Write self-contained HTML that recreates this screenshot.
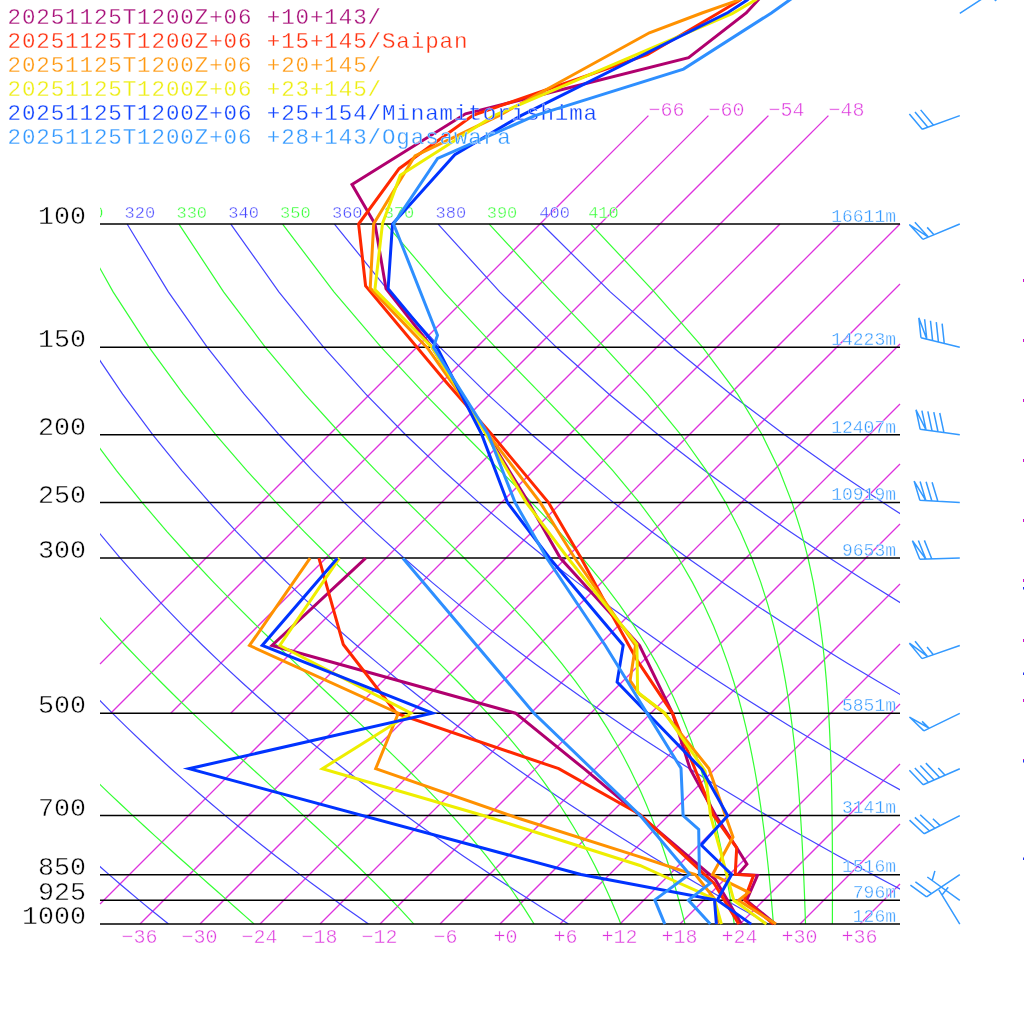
<!DOCTYPE html><html><head><meta charset="utf-8"><style>html,body{margin:0;padding:0;background:#fff;width:1024px;height:1024px;overflow:hidden}svg{display:block;will-change:transform}text{font-family:"Liberation Mono",monospace}</style></head><body>
<svg width="1024" height="1024" viewBox="0 0 1024 1024">
<rect width="1024" height="1024" fill="#fff"/>
<defs><clipPath id="pc"><rect x="100" y="0" width="800" height="924.1"/></clipPath><clipPath id="pl"><rect x="100" y="100" width="800" height="824.1"/></clipPath></defs>
<g stroke="#dd33dd" stroke-width="1.3" fill="none"><line x1="100" y1="664.04" x2="648.42" y2="115.62"/><line x1="110.72" y1="713.32" x2="708.42" y2="115.62"/><line x1="170.72" y1="713.32" x2="768.42" y2="115.62"/><line x1="230.72" y1="713.32" x2="828.42" y2="115.62"/><line x1="100" y1="904.04" x2="779.99" y2="224.05"/><line x1="140" y1="924.04" x2="839.99" y2="224.05"/><line x1="200" y1="924.04" x2="899.99" y2="224.05"/><line x1="260" y1="924.04" x2="900" y2="284.04"/><line x1="320" y1="924.04" x2="900" y2="344.04"/><line x1="380" y1="924.04" x2="900" y2="404.04"/><line x1="440" y1="924.04" x2="900" y2="464.04"/><line x1="500" y1="924.04" x2="900" y2="524.04"/><line x1="560" y1="924.04" x2="900" y2="584.04"/><line x1="620" y1="924.04" x2="900" y2="644.04"/><line x1="680" y1="924.04" x2="900" y2="704.04"/><line x1="740" y1="924.04" x2="900" y2="764.04"/><line x1="800" y1="924.04" x2="900" y2="824.04"/><line x1="860" y1="924.04" x2="900" y2="884.04"/></g>
<g clip-path="url(#pl)" stroke="#4444ff" stroke-width="1.2" fill="none"><polyline points="168.5,924.04 158.92,916.34 149.22,908.44 139.39,900.34 129.44,892.01 119.35,883.44 109.13,874.63 98.77,865.55 88.26,856.2 77.6,846.55 66.78,836.58 55.8,826.27 44.64,815.61 33.32,804.55 21.81,793.08 10.11,781.15 -1.79,768.74 -13.9,755.81 -26.22,742.29 -38.77,728.15 -51.55,713.32 -64.57,697.73 -77.85,681.29 -91.4,663.91 -105.21,645.48 -119.32,625.86 -133.71,604.89 -148.41,582.36 -163.41,558.03 -178.7,531.58 -194.28,502.6 -210.12,470.57 -226.14,434.77 -242.24,394.17 -258.19,347.31 -273.58,291.89 -287.54,224.05"/><polyline points="368.5,924.04 357.48,916.34 346.31,908.44 334.99,900.34 323.51,892.01 311.87,883.44 300.06,874.63 288.08,865.55 275.92,856.2 263.56,846.55 251.01,836.58 238.26,826.27 225.29,815.61 212.09,804.55 198.67,793.08 185,781.15 171.07,768.74 156.88,755.81 142.41,742.29 127.64,728.15 112.55,713.32 97.14,697.73 81.39,681.29 65.27,663.91 48.76,645.48 31.85,625.86 14.51,604.89 -3.29,582.36 -21.57,558.03 -40.34,531.58 -59.63,502.6 -79.46,470.57 -99.8,434.77 -120.62,394.17 -141.81,347.31 -163.1,291.89 -183.88,224.05"/><polyline points="568.5,924.04 556.04,916.34 543.4,908.44 530.59,900.34 517.59,892.01 504.39,883.44 491,874.63 477.4,865.55 463.58,856.2 449.53,846.55 435.25,836.58 420.72,826.27 405.93,815.61 390.87,804.55 375.53,793.08 359.89,781.15 343.94,768.74 327.66,755.81 311.03,742.29 294.04,728.15 276.66,713.32 258.86,697.73 240.63,681.29 221.93,663.91 202.74,645.48 183.02,625.86 162.73,604.89 141.83,582.36 120.28,558.03 98.02,531.58 75.01,502.6 51.2,470.57 26.54,434.77 1,394.17 -25.43,347.31 -52.61,291.89 -80.21,224.05"/><polyline points="768.5,924.04 754.6,916.34 740.5,908.44 726.19,900.34 711.66,892.01 696.92,883.44 681.93,874.63 666.71,865.55 651.24,856.2 635.5,846.55 619.48,836.58 603.18,826.27 586.57,815.61 569.65,804.55 552.39,793.08 534.79,781.15 516.81,768.74 498.44,755.81 479.66,742.29 460.44,728.15 440.76,713.32 420.58,697.73 399.87,681.29 378.6,663.91 356.72,645.48 334.19,625.86 310.95,604.89 286.95,582.36 262.12,558.03 236.38,531.58 209.66,502.6 181.86,470.57 152.88,434.77 122.61,394.17 90.96,347.31 57.87,291.89 23.45,224.05"/><polyline points="968.5,924.04 953.16,916.34 937.59,908.44 921.79,900.34 905.74,892.01 889.44,883.44 872.87,874.63 856.03,865.55 838.9,856.2 821.46,846.55 803.72,836.58 785.64,826.27 767.22,815.61 748.43,804.55 729.26,793.08 709.68,781.15 689.68,768.74 669.22,755.81 648.29,742.29 626.85,728.15 604.86,713.32 582.3,697.73 559.11,681.29 535.26,663.91 510.7,645.48 485.35,625.86 459.17,604.89 432.06,582.36 403.96,558.03 374.74,531.58 344.31,502.6 312.52,470.57 279.22,434.77 244.23,394.17 207.34,347.31 168.35,291.89 127.12,224.05"/><polyline points="1168.5,924.04 1151.72,916.34 1134.68,908.44 1117.38,900.34 1099.81,892.01 1081.96,883.44 1063.81,874.63 1045.34,865.55 1026.56,856.2 1007.43,846.55 987.95,836.58 968.1,826.27 947.86,815.61 927.21,804.55 906.12,793.08 884.57,781.15 862.55,768.74 840,755.81 816.92,742.29 793.25,728.15 768.96,713.32 744.02,697.73 718.36,681.29 691.93,663.91 664.67,645.48 636.52,625.86 607.39,604.89 577.18,582.36 545.8,558.03 513.11,531.58 478.96,502.6 443.18,470.57 405.56,434.77 365.85,394.17 323.72,347.31 278.83,291.89 230.78,224.05"/><polyline points="1368.5,924.04 1350.28,916.34 1331.78,908.44 1312.98,900.34 1293.89,892.01 1274.48,883.44 1254.74,874.63 1234.66,865.55 1214.22,856.2 1193.4,846.55 1172.19,836.58 1150.56,826.27 1128.5,815.61 1105.98,804.55 1082.98,793.08 1059.47,781.15 1035.41,768.74 1010.78,755.81 985.55,742.29 959.65,728.15 933.07,713.32 905.73,697.73 877.6,681.29 848.59,663.91 818.65,645.48 787.69,625.86 755.61,604.89 722.3,582.36 687.64,558.03 651.47,531.58 613.61,502.6 573.84,470.57 531.91,434.77 487.46,394.17 440.1,347.31 389.31,291.89 334.45,224.05"/><polyline points="1568.5,924.04 1548.84,916.34 1528.87,908.44 1508.58,900.34 1487.96,892.01 1467,883.44 1445.68,874.63 1423.97,865.55 1401.88,856.2 1379.37,846.55 1356.42,836.58 1333.02,826.27 1309.14,815.61 1284.76,804.55 1259.84,793.08 1234.36,781.15 1208.28,768.74 1181.57,755.81 1154.17,742.29 1126.06,728.15 1097.17,713.32 1067.45,697.73 1036.84,681.29 1005.26,663.91 972.63,645.48 938.86,625.86 903.83,604.89 867.42,582.36 829.48,558.03 789.83,531.58 748.26,502.6 704.5,470.57 658.25,434.77 609.08,394.17 556.49,347.31 499.79,291.89 438.11,224.05"/><polyline points="1768.5,924.04 1747.4,916.34 1725.96,908.44 1704.18,900.34 1682.04,892.01 1659.52,883.44 1636.61,874.63 1613.29,865.55 1589.54,856.2 1565.33,846.55 1540.66,836.58 1515.48,826.27 1489.79,815.61 1463.54,804.55 1436.71,793.08 1409.25,781.15 1381.15,768.74 1352.35,755.81 1322.8,742.29 1292.46,728.15 1261.27,713.32 1229.17,697.73 1196.08,681.29 1161.92,663.91 1126.61,645.48 1090.02,625.86 1052.05,604.89 1012.54,582.36 971.32,558.03 928.19,531.58 882.91,502.6 835.16,470.57 784.59,434.77 730.7,394.17 672.87,347.31 610.27,291.89 541.78,224.05"/></g>
<g clip-path="url(#pl)" stroke="#33ff33" stroke-width="1.2" fill="none"><polyline points="254.1,924.04 245.45,916.34 236.54,908.44 227.37,900.34 217.94,892.01 208.24,883.44 198.28,874.63 188.05,865.55 177.55,856.2 166.79,846.55 155.76,836.58 144.45,826.27 132.88,815.61 121.03,804.55 108.92,793.08 96.52,781.15 83.85,768.74 70.89,755.81 57.65,742.29 44.11,728.15 30.27,713.32 16.13,697.73 1.66,681.29 -13.13,663.91 -28.27,645.48 -43.76,625.86 -59.62,604.89 -75.86,582.36 -92.49,558.03 -109.52,531.58 -126.96,502.6 -144.79,470.57 -162.97,434.77 -181.43,394.17 -200,347.31 -218.34,291.89 -235.71,224.05"/><polyline points="413.9,924.04 406.87,916.34 399.5,908.44 391.78,900.34 383.69,892.01 375.2,883.44 366.31,874.63 357,865.55 347.25,856.2 337.06,846.55 326.39,836.58 315.26,826.27 303.64,815.61 291.53,804.55 278.92,793.08 265.82,781.15 252.22,768.74 238.11,755.81 223.51,742.29 208.41,728.15 192.8,713.32 176.7,697.73 160.09,681.29 142.97,663.91 125.34,645.48 107.17,625.86 88.46,604.89 69.18,582.36 49.31,558.03 28.82,531.58 7.68,502.6 -14.13,470.57 -36.63,434.77 -59.81,394.17 -83.62,347.31 -107.85,291.89 -132.04,224.05"/><polyline points="534.08,924.04 529.29,916.34 524.21,908.44 518.83,900.34 513.13,892.01 507.06,883.44 500.62,874.63 493.76,865.55 486.44,856.2 478.64,846.55 470.31,836.58 461.42,826.27 451.91,815.61 441.75,804.55 430.89,793.08 419.3,781.15 406.93,768.74 393.74,755.81 379.72,742.29 364.83,728.15 349.05,713.32 332.39,697.73 314.82,681.29 296.36,663.91 277.01,645.48 256.78,625.86 235.67,604.89 213.68,582.36 190.79,558.03 166.98,531.58 142.23,502.6 116.49,470.57 89.69,434.77 61.8,394.17 32.76,347.31 2.63,291.89 -28.38,224.05"/><polyline points="620.86,924.04 617.79,916.34 614.54,908.44 611.08,900.34 607.4,892.01 603.48,883.44 599.28,874.63 594.79,865.55 589.96,856.2 584.78,846.55 579.18,836.58 573.13,826.27 566.58,815.61 559.47,804.55 551.73,793.08 543.29,781.15 534.08,768.74 524,755.81 512.96,742.29 500.86,728.15 487.6,713.32 473.09,697.73 457.22,681.29 439.92,663.91 421.13,645.48 400.81,625.86 378.94,604.89 355.53,582.36 330.6,558.03 304.17,531.58 276.25,502.6 246.84,470.57 215.91,434.77 183.37,394.17 149.13,347.31 113.11,291.89 75.29,224.05"/><polyline points="684.98,924.04 683.07,916.34 681.04,908.44 678.88,900.34 676.58,892.01 674.13,883.44 671.51,874.63 668.69,865.55 665.66,856.2 662.4,846.55 658.87,836.58 655.04,826.27 650.87,815.61 646.32,804.55 641.33,793.08 635.84,781.15 629.78,768.74 623.06,755.81 615.58,742.29 607.24,728.15 597.88,713.32 587.35,697.73 575.47,681.29 562.05,663.91 546.85,645.48 529.67,625.86 510.27,604.89 488.49,582.36 464.19,558.03 437.31,531.58 407.86,502.6 375.91,470.57 341.51,434.77 304.69,394.17 265.42,347.31 223.57,291.89 178.95,224.05"/><polyline points="734.24,924.04 733.09,916.34 731.87,908.44 730.57,900.34 729.19,892.01 727.72,883.44 726.14,874.63 724.44,865.55 722.62,856.2 720.64,846.55 718.5,836.58 716.18,826.27 713.64,815.61 710.86,804.55 707.8,793.08 704.42,781.15 700.67,768.74 696.48,755.81 691.79,742.29 686.51,728.15 680.51,713.32 673.68,697.73 665.84,681.29 656.79,663.91 646.28,645.48 634.01,625.86 619.59,604.89 602.62,582.36 582.62,558.03 559.13,531.58 531.76,502.6 500.26,470.57 464.59,434.77 424.88,394.17 381.3,347.31 333.91,291.89 282.59,224.05"/><polyline points="773.42,924.04 772.8,916.34 772.13,908.44 771.43,900.34 770.67,892.01 769.86,883.44 768.99,874.63 768.06,865.55 767.04,856.2 765.94,846.55 764.74,836.58 763.44,826.27 762,815.61 760.41,804.55 758.66,793.08 756.71,781.15 754.53,768.74 752.07,755.81 749.3,742.29 746.16,728.15 742.56,713.32 738.41,697.73 733.6,681.29 727.97,663.91 721.34,645.48 713.44,625.86 703.96,604.89 692.45,582.36 678.36,558.03 660.98,531.58 639.45,502.6 612.82,470.57 580.22,434.77 541.12,394.17 495.51,347.31 443.74,291.89 386.13,224.05"/><polyline points="805.51,924.04 805.25,916.34 804.98,908.44 804.69,900.34 804.38,892.01 804.04,883.44 803.67,874.63 803.27,865.55 802.82,856.2 802.34,846.55 801.79,836.58 801.19,826.27 800.52,815.61 799.76,804.55 798.9,793.08 797.94,781.15 796.83,768.74 795.57,755.81 794.12,742.29 792.44,728.15 790.48,713.32 788.18,697.73 785.47,681.29 782.24,663.91 778.36,645.48 773.67,625.86 767.91,604.89 760.77,582.36 751.8,558.03 740.38,531.58 725.63,502.6 706.34,470.57 680.92,434.77 647.54,394.17 604.64,347.31 551.66,291.89 489.21,224.05"/><polyline points="832.38,924.04 832.4,916.34 832.42,908.44 832.44,900.34 832.45,892.01 832.45,883.44 832.45,874.63 832.43,865.55 832.4,856.2 832.36,846.55 832.29,836.58 832.19,826.27 832.07,815.61 831.9,804.55 831.69,793.08 831.42,781.15 831.08,768.74 830.66,755.81 830.13,742.29 829.48,728.15 828.67,713.32 827.66,697.73 826.41,681.29 824.85,663.91 822.89,645.48 820.42,625.86 817.29,604.89 813.27,582.36 808.05,558.03 801.19,531.58 792.01,502.6 779.5,470.57 762.13,434.77 737.57,394.17 702.69,347.31 654.23,291.89 590.68,224.05"/></g>
<g stroke="#000" stroke-width="1.5"><line x1="100" y1="224.05" x2="900" y2="224.05"/><line x1="100" y1="347.31" x2="900" y2="347.31"/><line x1="100" y1="434.77" x2="900" y2="434.77"/><line x1="100" y1="502.6" x2="900" y2="502.6"/><line x1="100" y1="558.03" x2="900" y2="558.03"/><line x1="100" y1="713.32" x2="900" y2="713.32"/><line x1="100" y1="815.61" x2="900" y2="815.61"/><line x1="100" y1="874.63" x2="900" y2="874.63"/><line x1="100" y1="900.34" x2="900" y2="900.34"/><line x1="100" y1="924.04" x2="900" y2="924.04"/></g>
<g font-size="26.67" fill="#000" stroke="#fff" stroke-width="0.5"><text x="86" y="224.05" text-anchor="end">100</text><text x="86" y="347.31" text-anchor="end">150</text><text x="86" y="434.77" text-anchor="end">200</text><text x="86" y="502.6" text-anchor="end">250</text><text x="86" y="558.03" text-anchor="end">300</text><text x="86" y="713.32" text-anchor="end">500</text><text x="86" y="815.61" text-anchor="end">700</text><text x="86" y="874.63" text-anchor="end">850</text><text x="86" y="900.34" text-anchor="end">925</text><text x="86" y="924.04" text-anchor="end">1000</text></g>
<g font-size="17" clip-path="url(#pc)" stroke="#fff" stroke-width="0.4"><text x="20.95" y="218.3" fill="#4444ff">300</text><text x="72.79" y="218.3" fill="#33ff33">310</text><text x="124.62" y="218.3" fill="#4444ff">320</text><text x="176.45" y="218.3" fill="#33ff33">330</text><text x="228.28" y="218.3" fill="#4444ff">340</text><text x="280.09" y="218.3" fill="#33ff33">350</text><text x="331.95" y="218.3" fill="#4444ff">360</text><text x="383.63" y="218.3" fill="#33ff33">370</text><text x="435.61" y="218.3" fill="#4444ff">380</text><text x="486.71" y="218.3" fill="#33ff33">390</text><text x="539.28" y="218.3" fill="#4444ff">400</text><text x="588.18" y="218.3" fill="#33ff33">410</text></g>
<g font-size="20" fill="#dd33dd" stroke="#fff" stroke-width="0.5"><text x="157.5" y="942.6" text-anchor="end">&#8722;36</text><text x="217.5" y="942.6" text-anchor="end">&#8722;30</text><text x="277.5" y="942.6" text-anchor="end">&#8722;24</text><text x="337.5" y="942.6" text-anchor="end">&#8722;18</text><text x="397.5" y="942.6" text-anchor="end">&#8722;12</text><text x="457.5" y="942.6" text-anchor="end">&#8722;6</text><text x="517.5" y="942.6" text-anchor="end">+0</text><text x="577.5" y="942.6" text-anchor="end">+6</text><text x="637.5" y="942.6" text-anchor="end">+12</text><text x="697.5" y="942.6" text-anchor="end">+18</text><text x="757.5" y="942.6" text-anchor="end">+24</text><text x="817.5" y="942.6" text-anchor="end">+30</text><text x="877.5" y="942.6" text-anchor="end">+36</text></g>
<g font-size="20" fill="#dd33dd" stroke="#fff" stroke-width="0.5"><text x="648.42" y="116.42">&#8722;66</text><text x="708.42" y="116.42">&#8722;60</text><text x="768.42" y="116.42">&#8722;54</text><text x="828.42" y="116.42">&#8722;48</text></g>
<g font-size="18" fill="#3399ff" stroke="#fff" stroke-width="0.4"><text x="896" y="221.85" text-anchor="end">16611m</text><text x="896" y="345.11" text-anchor="end">14223m</text><text x="896" y="432.57" text-anchor="end">12407m</text><text x="896" y="500.4" text-anchor="end">10919m</text><text x="896" y="555.83" text-anchor="end">9653m</text><text x="896" y="711.12" text-anchor="end">5851m</text><text x="896" y="813.41" text-anchor="end">3141m</text><text x="896" y="872.43" text-anchor="end">1516m</text><text x="896" y="898.14" text-anchor="end">796m</text><text x="896" y="921.84" text-anchor="end">126m</text></g>
<g stroke="#b0006e" stroke-width="3" fill="none" stroke-miterlimit="10"><polyline points="741.4,924.1 715,879 640,815.3 584,768.7 515.5,713.2 272,645.5 365.7,558.2"/><polyline points="775.5,924.1 746.5,900.3 757.5,875.3 738,874.3 746.9,864.2 736.7,847.8 715.9,815.7 690,768.7 672.5,713.3 639.6,645.5 560.3,558 528.6,502.6 487,434.4 432,347.3 386,288.7 375,224 352,184.4 465.5,113.8 688.6,57.6 746.2,13 758.1,0 778,-20"/></g>
<text x="7.5" y="24" fill="#a8107a" font-size="22.5" letter-spacing="0.9" stroke="#fff" stroke-width="0.3">20251125T1200Z+06 +10+143/</text>
<g stroke="#ff2800" stroke-width="3" fill="none" stroke-miterlimit="10"><polyline points="738.9,924.1 714,883.3 640,814.5 558.75,768.7 396.7,713.5 343.3,644.5 318.9,558.2"/><polyline points="773.4,924.1 744.4,899.9 753.6,875.4 735.2,874.4 736.7,847.8 713.7,815.5 672.5,713.3 637.8,661.4 614.2,618.9 581,558 548.5,502.6 491.7,434.4 445.2,380.9 365.6,286 358.6,224 399.1,168.7 473,115.3 647.3,54.7 718,13.3 740,0 770,-25"/></g>
<text x="7.5" y="48" fill="#ff3311" font-size="22.5" letter-spacing="0.9" stroke="#fff" stroke-width="0.3">20251125T1200Z+06 +15+145/Saipan</text>
<g stroke="#ff9100" stroke-width="3" fill="none" stroke-miterlimit="10"><polyline points="718,924.1 714.5,898.8 695.4,874.6 682.2,870.7 640,856.9 520,818.8 375.7,768.7 398.3,713.2 249.5,645.5 310.1,558.2"/><polyline points="776,924.1 738.5,900.3 748.7,892.4 712.5,874.5 733,837 708.9,768.5 664.5,713.3 639.6,694.3 630.1,680.6 635.5,645.5 574.7,558 540.3,502.6 488.3,434.4 427.6,348.1 370.2,288.1 373.7,223.6 415,155.8 499,115.6 649.4,32.8 702,13 739,0 775,-25"/></g>
<text x="7.5" y="72" fill="#ff9911" font-size="22.5" letter-spacing="0.9" stroke="#fff" stroke-width="0.3">20251125T1200Z+06 +20+145/</text>
<g stroke="#eeee00" stroke-width="3" fill="none" stroke-miterlimit="10"><polyline points="721.4,924.1 714.5,899.3 697.3,891.2 670,879 640,865.5 484,815.7 322.4,768.7 411,713.2 279.8,645.5 339.4,558.2"/><polyline points="766.4,924.1 733.8,900.3 720.1,850 710.5,815.5 705.1,771 664.3,712.5 637.6,692.2 636.9,644.4 567.9,558 526.3,502.6 486.2,434.4 431.7,347 374.9,289.6 382.5,223.6 400.3,175.2 494,115.6 732.1,13.7 755.4,0 785,-25"/></g>
<text x="7.5" y="96" fill="#eeee11" font-size="22.5" letter-spacing="0.9" stroke="#fff" stroke-width="0.3">20251125T1200Z+06 +23+145/</text>
<g stroke="#0033ff" stroke-width="3" fill="none" stroke-miterlimit="10"><polyline points="716.4,924.1 714.5,899.7 581,874.5 189,768.7 432.5,713.2 262.2,645.5 337.4,558.2"/><polyline points="751.2,924.1 717.3,900.1 731.6,874.5 701.2,845 727.7,815.7 701.9,769.5 617.1,682 623.2,645.3 549.5,558 507.5,502.6 481.7,434.4 437,347.3 388.1,288.7 392.5,224 454.8,154.7 521,115.6 728,12.5 747.2,0 775,-25"/></g>
<text x="7.5" y="120" fill="#1144ff" font-size="22.5" letter-spacing="0.9" stroke="#fff" stroke-width="0.3">20251125T1200Z+06 +25+154/Minamitorishima</text>
<g stroke="#2e8fff" stroke-width="3" fill="none" stroke-miterlimit="10"><polyline points="664.8,924.1 654.8,899.9 689.5,874.3 640,815.3 534,713.3 402.9,558.2"/><polyline points="710.3,924.1 688.4,900.1 710.3,883.3 699.4,874.5 698.7,829.5 683.1,815.5 681,768.3 605.3,645.5 546.7,558 515.1,502.6 488.4,434.4 433.4,347.3 437.5,335.2 393.6,224 437.6,158.5 535,115.6 683.5,69.1 771.4,12.9 789.6,0 818,-20"/></g>
<text x="7.5" y="144" fill="#3399ff" font-size="22.5" letter-spacing="0.9" stroke="#fff" stroke-width="0.3">20251125T1200Z+06 +28+143/Ogasawara</text>
<g stroke="#3399ff" stroke-width="1.5" fill="none" stroke-linejoin="miter"><path d="M959.8,13.33L993.34,-8.47M988.31,-5.2L996.3,0.82"/><path d="M959.8,115.62L922.21,129.3M922.21,129.3L909.36,113.97M927.85,127.24L915,111.92M933.49,125.19L920.63,109.87"/><path d="M959.8,224.05L922.83,239.33M922.83,239.33L909.33,224.57L928.38,237.04M928.38,237.04L914.88,222.28M933.92,234.74L927.17,227.37"/><path d="M959.8,347.31L920.96,337.74M920.96,337.74L918.82,317.86L926.79,339.18M926.79,339.18L924.64,319.29M932.61,340.61L930.47,320.73M938.44,342.05L936.29,322.16M944.26,343.48L942.12,323.6"/><path d="M959.8,434.77L920.18,429.3M920.18,429.3L915.97,409.74L926.12,430.12M926.12,430.12L921.91,410.56M932.06,430.94L927.86,411.38M938.01,431.76L933.8,412.21M943.95,432.58L939.74,413.03"/><path d="M959.8,502.6L919.87,500.3M919.87,500.3L914.12,481.15L925.86,500.65M925.86,500.65L920.11,481.49M931.85,500.99L926.1,481.84M937.84,501.34L932.09,482.18"/><path d="M959.8,558.03L919.82,559.3M919.82,559.3L912.39,540.73L925.82,559.11M925.82,559.11L918.38,540.54M931.81,558.92L924.38,540.35"/><path d="M959.8,645.48L922.03,658.65M922.03,658.65L909.38,643.16L927.7,656.68M927.7,656.68L915.05,641.19M933.36,654.7L927.04,646.96"/><path d="M959.8,713.32L923.88,730.91M923.88,730.91L909.47,717.04L929.26,728.27M929.26,728.27L922.06,721.34"/><path d="M959.8,768.74L923.17,784.81M923.17,784.81L909.36,770.35M928.66,782.4L914.85,767.94M934.16,779.99L920.34,765.53M939.65,777.58L925.84,763.12M945.15,775.17L938.24,767.94"/><path d="M959.8,815.61L924.16,833.77M924.16,833.77L909.53,820.13M929.51,831.05L914.88,817.41M934.85,828.32L920.22,814.68M940.2,825.6L932.88,818.78"/><path d="M959.8,874.63L926.58,896.91M926.58,896.91L910.43,885.12M931.56,893.57L915.41,881.77"/><path d="M959.8,900.34L927.31,877.01M932.18,880.51L934.88,870.88"/><path d="M959.8,924.04L938.85,889.96M941.99,895.07L948.21,887.24"/></g>
<rect x="1023" y="279" width="1" height="3" fill="#cc11cc"/><rect x="1023" y="339" width="1" height="3" fill="#cc11cc"/><rect x="1023" y="399" width="1" height="3" fill="#cc11cc"/><rect x="1023" y="459" width="1" height="3" fill="#cc11cc"/><rect x="1023" y="519" width="1" height="3" fill="#cc11cc"/><rect x="1023" y="579" width="1" height="3" fill="#cc11cc"/><rect x="1023" y="639" width="1" height="3" fill="#cc11cc"/><rect x="1023" y="699" width="1" height="3" fill="#cc11cc"/><rect x="1023" y="759" width="1" height="3" fill="#cc11cc"/><rect x="1023" y="587" width="1" height="2.5" fill="#2233ee"/><rect x="1023" y="672.5" width="1" height="2.5" fill="#2233ee"/><rect x="1023" y="760" width="1" height="2.5" fill="#2233ee"/><rect x="1023" y="857.5" width="1" height="2.5" fill="#2233ee"/>
</svg></body></html>
